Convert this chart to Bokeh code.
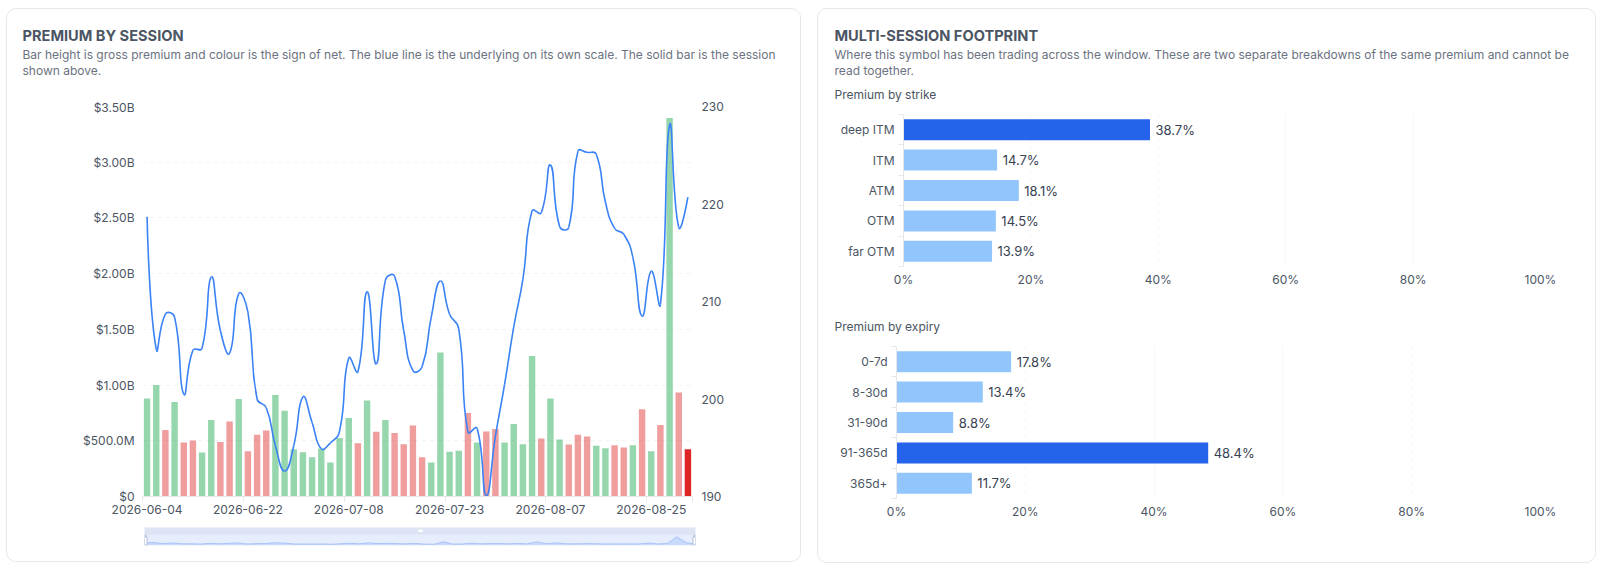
from bokeh.embed import file_html
from bokeh.resources import INLINE
from bokeh.plotting import figure
from bokeh.layouts import row, column
from bokeh.core.properties import value
from bokeh.models import (BoxAnnotation, ColumnDataSource, FixedTicker, Label, LinearAxis, Range1d)

premium_b = [0.88, 1.00, 0.596, 0.847, 0.485, 0.503, 0.395, 0.686, 0.488, 0.674,
             0.874, 0.407, 0.554, 0.593, 0.91, 0.77, 0.425, 0.398, 0.353, 0.431,
             0.305, 0.524, 0.704, 0.479, 0.862, 0.581, 0.686, 0.569, 0.47, 0.638,
             0.353, 0.305, 1.293, 0.401, 0.41, 0.749, 0.485, 0.584, 0.605, 0.485,
             0.65, 0.47, 1.26, 0.521, 0.88, 0.512, 0.467, 0.554, 0.539, 0.455,
             0.434, 0.461, 0.44, 0.461, 0.784, 0.407, 0.641, 3.396, 0.934, 0.425]
net_sign = ["+", "+", "-", "+", "-", "-", "+", "+", "-", "-",
            "+", "-", "-", "-", "+", "+", "+", "+", "+", "+",
            "+", "+", "+", "-", "+", "-", "+", "-", "-", "-",
            "-", "+", "+", "+", "+", "-", "+", "-", "-", "+",
            "+", "+", "+", "-", "+", "+", "-", "-", "-", "+",
            "+", "-", "-", "+", "-", "+", "-", "+", "-", "-"]
underlying = [218.7, 205.1, 208.7, 208.4, 200.5, 205.0, 205.2, 212.5, 207.0, 204.7,
              210.8, 208.9, 200.0, 199.1, 195.2, 192.6, 195.2, 200.2, 197.6, 194.9,
              195.5, 196.7, 204.2, 202.8, 211.0, 203.6, 212.2, 212.6, 207.0, 202.9,
              203.3, 208.4, 212.1, 208.7, 207.2, 196.6, 197.0, 190.1, 196.2, 201.5,
              207.4, 212.3, 219.3, 219.1, 224.0, 217.7, 217.6, 225.4, 225.3, 225.1,
              220.2, 217.5, 216.9, 214.5, 208.5, 213.1, 209.7, 228.1, 217.6, 220.7]
tick_index = [0, 11, 22, 33, 44, 55]
tick_dates = ["2026-06-04", "2026-06-22", "2026-07-08", "2026-07-23", "2026-08-07", "2026-08-25"]
premium_ticks = [0, 0.5, 1.0, 1.5, 2.0, 2.5, 3.0, 3.5]
premium_tick_labels = ["$0", "$500.0M", "$1.00B", "$1.50B", "$2.00B", "$2.50B", "$3.00B", "$3.50B"]
underlying_ticks = [190, 200, 210, 220, 230]

strike_names = ["deep ITM", "ITM", "ATM", "OTM", "far OTM"]
strike_share = [38.7, 14.7, 18.1, 14.5, 13.9]
expiry_names = ["0-7d", "8-30d", "31-90d", "91-365d", "365d+"]
expiry_share = [17.8, 13.4, 8.8, 48.4, 11.7]
share_ticks = [0, 20, 40, 60, 80, 100]

FONT = "Inter"
GREEN, RED, BLUE, DEEP, PALE = "#16a34a", "#dc2626", "#3b82f6", "#2563eb", "#93c5fd"
GRID, AXIS, TICKTXT, BORDER = "#f3f4f6", "#e5e7eb", "#4b5563", "#e5e7eb"
HEAD = "#4b5563"
CARD = {"border": "1px solid " + BORDER, "border-radius": "10px", "overflow": "hidden", "background": "white"}


def base(**kw):
    return figure(output_backend="svg", toolbar_location=None, background_fill_color="white",
                  border_fill_color="white", outline_line_color=None, frame_align=False, **kw)


def header(x0, y0, w, h, items):
    """A text strip whose frame fills it; items are (x, y, text, size, colour, bold) in page pixels."""
    p = base(width=w, height=h, x_range=Range1d(x0, x0 + w), y_range=Range1d(y0 + h, y0),
             min_border=0, min_border_left=0, min_border_right=0, min_border_top=0, min_border_bottom=0,
             x_axis_location=None, y_axis_location=None)
    p.grid.visible = False
    for x, y, s, size, col, bold in items:
        p.add_layout(Label(x=x, y=y, text=s, text_font=FONT, text_font_size=size, text_color=col,
                           text_font_style="bold" if bold else "normal",
                           text_baseline="middle", text_align="left"))
    return p


# ---------- left card
n = len(premium_b)
head_left = header(8, 10, 793, 90, [
    (23, 36, "PREMIUM BY SESSION", "14.6px", HEAD, True),
    (23, 55, "Bar height is gross premium and colour is the sign of net. The blue line is the underlying on its own scale. The solid bar is the session", "12px", "#6b7280", False),
    (23, 71, "shown above.", "12px", "#6b7280", False),
])

left = base(width=793, height=419, frame_width=550, frame_height=390,
            x_range=Range1d(0, n), y_range=Range1d(0, 3.5),
            min_border_left=135, min_border_right=108, min_border_top=7, min_border_bottom=18,
            x_axis_location="below", y_axis_location="left")
left.extra_y_ranges = {"px": Range1d(190, 230)}
centres = [i + 0.5 for i in range(n)]
bar_col = [GREEN if s == "+" else RED for s in net_sign]
bar_alpha = [0.45] * n
bar_alpha[-1] = 1.0
left.vbar(x=centres, top=premium_b, width=0.7, color=bar_col, alpha=bar_alpha, line_color=None)

# ECharts-style smooth line: cubic segments whose control points come from neighbours
sx, sy = 9.17, 9.745
S = 0.5
cp_out, cp_in = [], []
for i, v in enumerate(underlying):
    if i == 0 or i == n - 1:
        cp_out.append((centres[i], v)); cp_in.append((centres[i], v)); continue
    dp = (sx ** 2 + (sy * (v - underlying[i - 1])) ** 2) ** 0.5
    dn = (sx ** 2 + (sy * (underlying[i + 1] - v)) ** 2) ** 0.5
    r = dn / (dn + dp)
    vx = (centres[i + 1] - centres[i - 1]) * S
    vy = (underlying[i + 1] - underlying[i - 1]) * S
    cp_out.append((centres[i] + vx * r, v + vy * r))
    cp_in.append((centres[i] - vx * (1 - r), v - vy * (1 - r)))
line_src = ColumnDataSource(dict(
    x0=centres[:-1], y0=underlying[:-1], x1=centres[1:], y1=underlying[1:],
    cx0=[c[0] for c in cp_out[:-1]], cy0=[c[1] for c in cp_out[:-1]],
    cx1=[c[0] for c in cp_in[1:]], cy1=[c[1] for c in cp_in[1:]]))
left.bezier(x0="x0", y0="y0", x1="x1", y1="y1", cx0="cx0", cy0="cy0", cx1="cx1", cy1="cy1",
            source=line_src, line_color=BLUE, line_width=1.6, y_range_name="px")

xa = left.xaxis[0]
xa.ticker = FixedTicker(ticks=[i + 0.5 for i in tick_index], minor_ticks=tick_index + [n])
xa.major_label_overrides = {i + 0.5: d for i, d in zip(tick_index, tick_dates)}
xa.major_tick_out = 0; xa.major_tick_in = 0
xa.minor_tick_out = 5; xa.minor_tick_in = 0
xa.minor_tick_line_color = AXIS; xa.axis_line_color = AXIS
xa.major_label_standoff = 3
xa.major_label_text_font = FONT; xa.major_label_text_font_size = "12px"; xa.major_label_text_color = TICKTXT

ya = left.yaxis[0]
ya.ticker = FixedTicker(ticks=premium_ticks, minor_ticks=[])
ya.major_label_overrides = {float(v) if v else 0: s for v, s in zip(premium_ticks, premium_tick_labels)}
ya.axis_line_color = None; ya.major_tick_line_color = None; ya.minor_tick_line_color = None
ya.major_tick_out = 0; ya.major_tick_in = 0; ya.major_label_standoff = 8
ya.major_label_text_font = FONT; ya.major_label_text_font_size = "12px"; ya.major_label_text_color = TICKTXT

ra = LinearAxis(y_range_name="px", ticker=FixedTicker(ticks=underlying_ticks, minor_ticks=[]))
ra.axis_line_color = None; ra.major_tick_line_color = None; ra.minor_tick_line_color = None
ra.major_tick_out = 0; ra.major_tick_in = 0; ra.major_label_standoff = 9
ra.major_label_text_font = FONT; ra.major_label_text_font_size = "12px"; ra.major_label_text_color = TICKTXT
left.add_layout(ra, "right")

left.xgrid.visible = False
left.ygrid.ticker = FixedTicker(ticks=premium_ticks, minor_ticks=[])
left.ygrid.grid_line_color = GRID; left.ygrid.grid_line_dash = [4, 4]; left.ygrid.level = "underlay"

# ---------- range slider look-alike under the left chart
dz = base(width=793, height=45, frame_width=551, frame_height=18,
          x_range=Range1d(0, n - 1), y_range=Range1d(-0.2, 7.2),
          min_border_left=137, min_border_right=105, min_border_top=11, min_border_bottom=16,
          x_axis_location=None, y_axis_location=None)
dz.background_fill_color = "#e6edfc"
dz.grid.visible = False
idx = list(range(n))
dz.varea(x=idx, y1=[0] * n, y2=premium_b, fill_color="#c9d9fb")
dz.line(x=idx, y=premium_b, line_color="#a9c3f7", line_width=1)


def dbox(l, r, t, b, fill, line=None):
    dz.add_layout(BoxAnnotation(left=l, right=r, top=t, bottom=b, left_units="screen", right_units="screen",
                                top_units="screen", bottom_units="screen", fill_color=fill, fill_alpha=1,
                                line_color=line, line_alpha=1 if line else 0, level="overlay"))


dbox(0, 551, 18, 11, "#dee4f3")
dbox(0, 2.5, 8.7, 0.3, "#ffffff", "#b4bfd6")
dbox(548.5, 551, 8.7, 0.3, "#ffffff", "#b4bfd6")
dbox(0, 2, 11, 8.7, "#b4bfd6")
dbox(549, 551, 11, 8.7, "#b4bfd6")
dbox(274, 278, 16, 13.5, "#ffffff")


# ---------- right card
def share_chart(names, share, height, fleft, ftop, fwidth):
    p = base(width=777, height=height, frame_width=fwidth, frame_height=152,
             x_range=Range1d(0, 100), y_range=Range1d(5, 0),
             min_border_left=fleft, min_border_right=777 - fleft - fwidth, min_border_top=ftop,
             min_border_bottom=height - ftop - 152)
    top = max(share)
    ys = [i + 0.5 for i in range(len(names))]
    cols = [DEEP if v == top else PALE for v in share]
    p.hbar(y=ys, left=0, right=share, height=0.69, color=cols, line_color=None)
    p.text(x=share, y=ys, text=[f"{v:.1f}%" for v in share], x_offset=5.5, text_font=value(FONT),
           text_font_size="13px", text_color="#374151", text_baseline="middle", text_align="left")
    a = p.yaxis[0]
    a.ticker = FixedTicker(ticks=ys, minor_ticks=list(range(6)))
    a.major_label_overrides = {y: s for y, s in zip(ys, names)}
    a.major_tick_out = 0; a.major_tick_in = 0; a.minor_tick_out = 5; a.minor_tick_in = 0
    a.minor_tick_line_color = AXIS; a.axis_line_color = AXIS; a.major_label_standoff = 4
    a.major_label_text_font = FONT; a.major_label_text_font_size = "12px"; a.major_label_text_color = TICKTXT
    b = p.xaxis[0]
    b.ticker = FixedTicker(ticks=share_ticks, minor_ticks=[])
    b.major_label_overrides = {v: f"{v}%" for v in share_ticks}
    b.axis_line_color = None; b.major_tick_line_color = None; b.minor_tick_line_color = None
    b.major_tick_out = 0; b.major_tick_in = 0; b.major_label_standoff = 5
    b.major_label_text_font = FONT; b.major_label_text_font_size = "12px"; b.major_label_text_color = TICKTXT
    p.ygrid.visible = False
    p.xgrid.ticker = FixedTicker(ticks=share_ticks, minor_ticks=[])
    p.xgrid.grid_line_color = GRID; p.xgrid.grid_line_dash = [4, 4]; p.xgrid.level = "underlay"
    return p


head_right = header(818, 10, 777, 95, [
    (834, 36, "MULTI-SESSION FOOTPRINT", "14.6px", HEAD, True),
    (834, 55, "Where this symbol has been trading across the window. These are two separate breakdowns of the same premium and cannot be", "12px", "#6b7280", False),
    (834, 71, "read together.", "12px", "#6b7280", False),
    (834, 95, "Premium by strike", "12px", HEAD, False),
])
strike = share_chart(strike_names, strike_share, 195, 85, 10, 637)
head_expiry = header(818, 300, 777, 40, [(834, 326.7, "Premium by expiry", "12px", HEAD, False)])
expiry = share_chart(expiry_names, expiry_share, 223, 78, 7, 644)

card_left = column(head_left, left, dz, spacing=0, styles=CARD)
card_right = column(head_right, strike, head_expiry, expiry, spacing=0, styles=CARD)
page = row(card_left, card_right, spacing=16, margin=(8, 0, 0, 6))
open("out.html", "w").write(file_html(page, INLINE))
